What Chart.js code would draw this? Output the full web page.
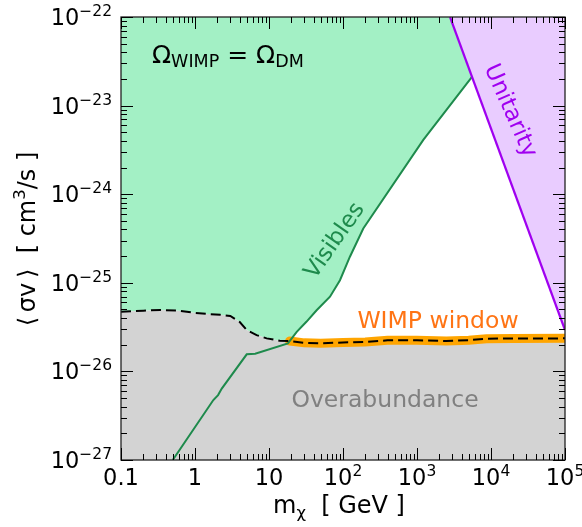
<!DOCTYPE html>
<html>
<head>
<meta charset="utf-8">
<script src="https://cdn.jsdelivr.net/npm/chart.js@4.4.1/dist/chart.umd.min.js"></script>
<style>
html, body { margin: 0; padding: 0; background: #fff; }
canvas { display: block; }
</style>
</head>
<body>
<canvas id="chart" width="582" height="527"></canvas>
<script>
// Relic line Omega_WIMP = Omega_DM (dashed)
const relicMass = [0.1, 0.2, 0.34, 0.6, 0.95, 1.5, 2.2, 3, 4, 5, 6.8, 9.3, 14, 19, 30, 50, 100, 200, 400, 1000, 2500, 5000, 8700, 20000, 100000];
const relicSigmaV = [4.72e-26, 4.85e-26, 4.93e-26, 4.85e-26, 4.6e-26, 4.45e-26, 4.35e-26, 4.22e-26, 3.63e-26, 2.93e-26, 2.57e-26, 2.36e-26, 2.22e-26, 2.2e-26, 2.1e-26, 2.08e-26, 2.12e-26, 2.15e-26, 2.24e-26, 2.25e-26, 2.2e-26, 2.25e-26, 2.34e-26, 2.35e-26, 2.36e-26];

// Visibles bound
const visMass = [0.5, 1.77, 2.05, 2.3, 5, 6.5, 18, 23.7, 32, 44, 66.7, 91, 124, 188, 1217, 5500];
const visSigmaV = [1e-27, 4.75e-27, 5.4e-27, 6.4e-27, 1.56e-26, 1.58e-26, 2.07e-26, 2.8e-26, 3.63e-26, 4.9e-26, 6.97e-26, 1.07e-25, 1.97e-25, 4.1e-25, 4.1e-24, 2.1e-23];

// Unitarity bound
const unitMass = [2795, 100000];
const unitSigmaV = [1e-22, 2.93e-26];

const windowStart = 19;

const xTickValues = [0.1, 1, 10, 100, 1000, 10000, 100000];
const xTickBase = ["0.1", "1", "10", "10", "10", "10", "10"];
const xTickExp = ["", "", "", "2", "3", "4", "5"];
const yTickValues = [1e-27, 1e-26, 1e-25, 1e-24, 1e-23, 1e-22];
const yTickExp = ["\u221227", "\u221226", "\u221225", "\u221224", "\u221223", "\u221222"];

const FONT = '"DejaVu Sans", sans-serif';

function pts(xs, ys) {
    return xs.map((x, i) => ({x: x, y: ys[i]}));
}

const relicPts = pts(relicMass, relicSigmaV);
const windowPts = relicPts.filter(p => p.x >= windowStart);
const greenEdge = relicPts.filter(p => p.x < 18).concat(pts(visMass, visSigmaV).filter(p => p.x >= 18));

// draws a piece of text made of parts with own size and vertical shift
function drawRich(ctx, parts, x, y, align, color) {
    let total = 0;
    parts.forEach(p => {
        ctx.font = p.size + "px " + FONT;
        p.w = ctx.measureText(p.t).width;
        total += p.w;
    });
    let cx = x;
    if (align === "center") cx = x - total / 2;
    if (align === "right") cx = x - total;
    ctx.fillStyle = color || "#000";
    ctx.textAlign = "left";
    ctx.textBaseline = "alphabetic";
    parts.forEach(p => {
        ctx.font = p.size + "px " + FONT;
        ctx.fillText(p.t, cx, y + (p.dy || 0));
        cx += p.w;
    });
}

function drawRotated(ctx, text, x, y, angle, size, color) {
    ctx.save();
    ctx.translate(x, y);
    ctx.rotate(angle * Math.PI / 180);
    ctx.font = size + "px " + FONT;
    ctx.fillStyle = color;
    ctx.textAlign = "center";
    ctx.textBaseline = "middle";
    ctx.fillText(text, 0, 0);
    ctx.restore();
}

const decorPlugin = {
    id: "decor",
    afterDraw(chart) {
        const ctx = chart.ctx;
        const a = chart.chartArea;
        const xs = chart.scales.x;
        const ys = chart.scales.y;
        ctx.save();

        // in-plot labels
        drawRich(ctx, [
            {t: "\u03a9", size: 25},
            {t: "WIMP", size: 17.5, dy: 4},
            {t: " = \u03a9", size: 25},
            {t: "DM", size: 17.5, dy: 4}
        ], 152, 63, "left", "#000");
        drawRotated(ctx, "Visibles", 335, 241, -55, 23, "#1e8a4c");
        drawRotated(ctx, "Unitarity", 510, 111, 66, 23, "#a000f0");
        drawRich(ctx, [{t: "WIMP window", size: 23.5}], 438, 328, "center", "#ff7414");
        drawRich(ctx, [{t: "Overabundance", size: 23.5}], 385, 407, "center", "#808080");

        // frame
        ctx.strokeStyle = "#222";
        ctx.lineWidth = 1.3;
        ctx.strokeRect(a.left, a.top, a.right - a.left, a.bottom - a.top);

        // inward ticks on all sides
        ctx.lineWidth = 1;
        ctx.strokeStyle = "#000";
        ctx.beginPath();
        for (let e = -1; e <= 5; e++) {
            for (let m = 1; m <= 9; m++) {
                const v = m * Math.pow(10, e);
                if (v > 100000 * 1.0001) break;
                const px = Math.round(xs.getPixelForValue(v)) + 0.5;
                const len = m === 1 ? 12 : 6;
                ctx.moveTo(px, a.bottom); ctx.lineTo(px, a.bottom - len);
                ctx.moveTo(px, a.top); ctx.lineTo(px, a.top + len);
            }
        }
        for (let e = -27; e <= -22; e++) {
            for (let m = 1; m <= 9; m++) {
                const v = m * Math.pow(10, e);
                if (e === -22 && m > 1) break;
                const py = Math.round(ys.getPixelForValue(v)) + 0.5;
                const len = m === 1 ? 12 : 6;
                ctx.moveTo(a.left, py); ctx.lineTo(a.left + len, py);
                ctx.moveTo(a.right, py); ctx.lineTo(a.right - len, py);
            }
        }
        ctx.stroke();

        // tick labels
        xTickValues.forEach((v, i) => {
            const px = xs.getPixelForValue(v);
            const parts = [{t: xTickBase[i], size: 22.5}];
            if (xTickExp[i]) parts.push({t: xTickExp[i], size: 15.5, dy: -9});
            drawRich(ctx, parts, px, a.bottom + 25, "center", "#000");
        });
        yTickValues.forEach((v, i) => {
            const py = ys.getPixelForValue(v);
            drawRich(ctx, [{t: "10", size: 22.5}, {t: yTickExp[i], size: 15.5, dy: -9}], a.left - 9, py + 8, "right", "#000");
        });

        // axis titles
        drawRich(ctx, [
            {t: "m", size: 24},
            {t: "\u03c7", size: 16.5, dy: 5},
            {t: "  [ GeV ]", size: 24}
        ], 339, 513, "center", "#000");

        ctx.translate(35, 239);
        ctx.rotate(-Math.PI / 2);
        drawRich(ctx, [
            {t: "\u27e8\u2009\u03c3v\u2009\u27e9  [ cm", size: 24},
            {t: "3", size: 16.5, dy: -10},
            {t: "/s ]", size: 24}
        ], 0, 0, "center", "#000");
        ctx.restore();
    }
};

new Chart(document.getElementById("chart"), {
    type: "line",
    data: {
        datasets: [
            {
                // relic line, dashed, on top
                data: relicPts,
                borderColor: "#000",
                borderWidth: 2,
                borderDash: [10, 5],
                fill: false,
                order: 0
            },
            {
                // unitarity line
                data: pts(unitMass, unitSigmaV),
                borderColor: "#a000f0",
                borderWidth: 2.2,
                fill: false,
                order: 1
            },
            {
                // visibles line
                data: pts(visMass, visSigmaV),
                borderColor: "#1e8a4c",
                borderWidth: 2,
                fill: false,
                order: 2
            },
            {
                // WIMP window band
                data: windowPts,
                borderColor: "#ffa500",
                borderWidth: 9,
                borderCapStyle: "round",
                fill: false,
                order: 3
            },
            {
                // overabundance region
                data: relicPts,
                borderWidth: 0,
                borderColor: "rgba(0,0,0,0)",
                backgroundColor: "#d3d3d3",
                fill: "start",
                order: 4
            },
            {
                // unitarity excluded region
                data: pts(unitMass, unitSigmaV),
                borderWidth: 0,
                borderColor: "rgba(0,0,0,0)",
                backgroundColor: "#e9ccff",
                fill: "end",
                order: 5
            },
            {
                // visibles excluded region
                data: greenEdge,
                borderWidth: 0,
                borderColor: "rgba(0,0,0,0)",
                backgroundColor: "#a3f0c5",
                fill: "end",
                order: 6
            }
        ]
    },
    options: {
        responsive: false,
        animation: false,
        devicePixelRatio: 1,
        layout: { padding: { left: 121, right: 17, top: 17, bottom: 67 } },
        elements: { point: { radius: 0, hoverRadius: 0 }, line: { tension: 0 } },
        plugins: { legend: { display: false }, tooltip: { enabled: false } },
        scales: {
            x: { type: "logarithmic", min: 0.1, max: 100000, display: false },
            y: { type: "logarithmic", min: 1e-27, max: 1e-22, display: false }
        }
    },
    plugins: [decorPlugin]
});
</script>
</body>
</html>
